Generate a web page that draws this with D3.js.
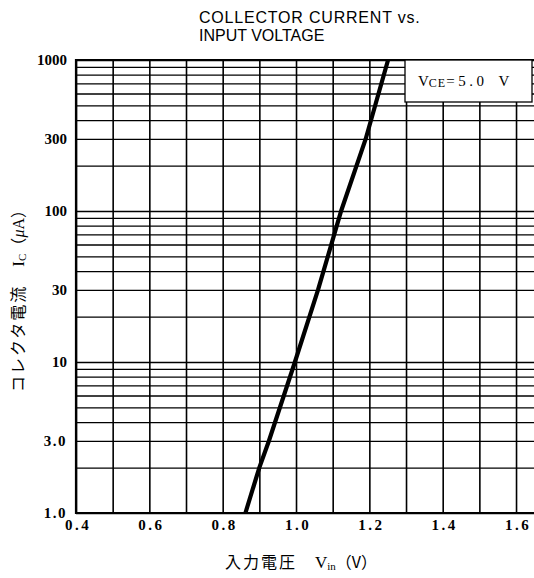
<!DOCTYPE html>
<html>
<head>
<meta charset="utf-8">
<script src="https://cdn.jsdelivr.net/npm/d3@7"></script>
<style>
	body { margin: 0; background: #fff; }
	svg { display: block; }
	text { fill: #000; }
	.grid line { stroke: #000; }
	.grid path { display: none; }
	.num { font-family: "Liberation Serif", "DejaVu Serif", serif; font-size: 15px; fill: #000; }
</style>
</head>
<body>
<div id="chart"></div>
<script>
// Courbe Ic = f(Vin)
const currentValues = [1, 2, 3, 10, 30, 100, 300, 1000];       // µA
const voltageValues = [0.862, 0.9, 0.926, 0.997, 1.06, 1.123, 1.19, 1.251]; // V

// Graduations
const xTickValues = [0.4, 0.6, 0.8, 1.0, 1.2, 1.4, 1.6];
const yTickValues = [1, 3, 10, 30, 100, 300, 1000];
const yTickLabels = ["1.0", "3.0", "10", "30", "100", "300", "1000"];

(function (d3) {
	"use strict";

	const width = 534, height = 578;
	const plot = { left: 76, top: 60, bottom: 513, right: 552.7 };

	const svg = d3.select("#chart")
		.append("svg")
		.attr("width", width)
		.attr("height", height);

	const x = d3.scaleLinear().domain([0.4, 1.7]).range([plot.left, plot.right]);
	const y = d3.scaleLog().domain([1, 1000]).range([plot.bottom, plot.top]);

	/*** titre ***/
	const title = svg.append("text")
		.attr("font-family", "Liberation Sans, Arial, sans-serif")
		.attr("font-size", 16)
		.attr("fill", "#000");
	title.append("tspan").attr("x", 199).attr("y", 23).attr("letter-spacing", 0.8).text("COLLECTOR CURRENT vs.");
	title.append("tspan").attr("x", 199).attr("y", 41).text("INPUT VOLTAGE");

	/*** grille ***/
	// lignes horizontales : 1..9 par decade
	svg.append("g")
		.attr("class", "grid")
		.attr("transform", "translate(" + plot.left + ",0)")
		.call(d3.axisLeft(y).ticks(10).tickSize(-(plot.right - plot.left)).tickFormat(""))
		.selectAll("line")
		.attr("stroke-width", 1.3);

	// lignes verticales tous les 0.1 V
	const xGrid = d3.range(4, 18).map(d => d / 10);
	svg.append("g")
		.attr("class", "grid")
		.attr("transform", "translate(0," + plot.bottom + ")")
		.call(d3.axisBottom(x).tickValues(xGrid).tickSize(-(plot.bottom - plot.top)).tickFormat(""))
		.selectAll("line")
		.attr("stroke-width", 1.6);

	// cadre gauche / bas / haut
	svg.append("line")
		.attr("x1", plot.left).attr("x2", plot.left)
		.attr("y1", plot.top - 1).attr("y2", plot.bottom + 1)
		.attr("stroke", "#000").attr("stroke-width", 2.2);
	svg.append("line")
		.attr("x1", plot.left).attr("x2", plot.right)
		.attr("y1", plot.bottom).attr("y2", plot.bottom)
		.attr("stroke", "#000").attr("stroke-width", 2.2);
	svg.append("line")
		.attr("x1", plot.left).attr("x2", plot.right)
		.attr("y1", plot.top).attr("y2", plot.top)
		.attr("stroke", "#000").attr("stroke-width", 1.8);

	/*** etiquettes des axes ***/
	svg.append("g")
		.selectAll("text")
		.data(yTickValues)
		.enter().append("text")
		.attr("class", "num")
		.attr("x", 67)
		.attr("y", d => y(d))
		.attr("dy", "0.35em")
		.attr("text-anchor", "end")
		.attr("font-weight", "bold")
		.attr("letter-spacing", (d, i) => yTickLabels[i].indexOf(".") >= 0 ? 1.5 : 0)
		.text((d, i) => yTickLabels[i]);

	svg.append("g")
		.selectAll("text")
		.data(xTickValues)
		.enter().append("text")
		.attr("class", "num")
		.attr("x", d => x(d) + 2)
		.attr("y", 530)
		.attr("text-anchor", "middle")
		.attr("font-weight", "bold")
		.attr("letter-spacing", 2.5)
		.text(d => d3.format(".1f")(d));

	/*** courbe ***/
	const line = d3.line()
		.x((d, i) => x(voltageValues[i]))
		.y(d => y(d));
	svg.append("path")
		.datum(currentValues)
		.attr("d", line)
		.attr("fill", "none")
		.attr("stroke", "#000")
		.attr("stroke-width", 4.2);

	/*** legende V_CE ***/
	svg.append("rect")
		.attr("x", 405).attr("y", 60)
		.attr("width", 127).attr("height", 42)
		.attr("fill", "#fff")
		.attr("stroke", "#000")
		.attr("stroke-width", 1.3);
	const legend = svg.append("text")
		.attr("class", "num")
		.attr("x", 418)
		.attr("y", 86)
		.attr("font-size", 18);
	legend.append("tspan").text("V");
	legend.append("tspan").attr("font-size", 12).attr("dy", 1).attr("letter-spacing", 1).text("CE");
	legend.append("tspan").attr("dy", -1).attr("letter-spacing", 3.5).text("=5.0\u2002V");

	/*** titres des axes ***/
	const xTitle = svg.append("text")
		.attr("x", 301)
		.attr("y", 568)
		.attr("text-anchor", "middle")
		.attr("font-size", 16)
		.attr("fill", "#000")
		.attr("font-family", "Noto Sans CJK JP, Liberation Serif, serif");
	xTitle.append("tspan").attr("letter-spacing", 2).text("入力電圧\u3000");
	xTitle.append("tspan").attr("font-family", "Liberation Serif, serif").attr("font-size", 17).text("V");
	xTitle.append("tspan").attr("font-family", "Liberation Serif, serif").attr("font-size", 11).attr("dy", 2).text("in");
	xTitle.append("tspan").attr("dy", -2).text("（V）");

	// texte vertical : opacity < 1 pour un lissage en niveaux de gris
	const yTitle = svg.append("text")
		.attr("transform", "translate(24,297) rotate(-90)")
		.attr("text-anchor", "middle")
		.attr("font-size", 16)
		.attr("fill", "#000")
		.attr("opacity", 0.999)
		.attr("font-family", "Noto Sans CJK JP, Liberation Serif, serif");
	yTitle.append("tspan").attr("letter-spacing", 2).text("コレクタ電流\u3000");
	yTitle.append("tspan").attr("font-family", "Liberation Serif, serif").attr("font-size", 17).text("I");
	yTitle.append("tspan").attr("font-family", "Liberation Serif, serif").attr("font-size", 11).attr("dy", 2).text("C");
	yTitle.append("tspan").attr("dy", -2).text("（");
	yTitle.append("tspan").attr("font-family", "Liberation Serif, serif").attr("font-style", "italic").text("μ");
	yTitle.append("tspan").attr("font-family", "Liberation Serif, serif").text("A");
	yTitle.append("tspan").text("）");

})(d3);
</script>
</body>
</html>
